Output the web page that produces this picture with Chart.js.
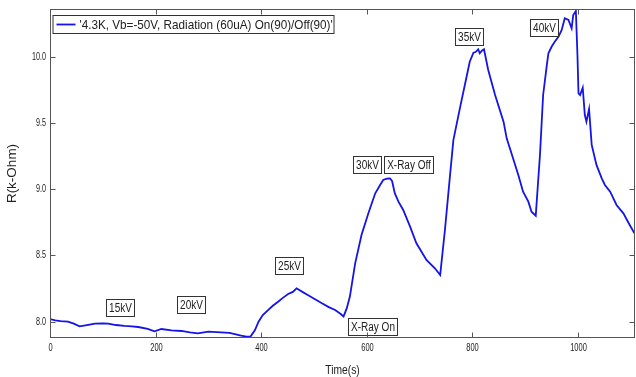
<!DOCTYPE html>
<html>
<head>
<meta charset="utf-8">
<script src="https://cdn.jsdelivr.net/npm/chart.js@4.4.1/dist/chart.umd.min.js"></script>
<style>
  body { margin: 0; background: #fff; }
  #wrap { width: 636px; height: 377px; }
</style>
</head>
<body>
<div id="wrap"><canvas id="rChart" width="636" height="377"></canvas></div>
<script>
// Resistance vs time
const timeSec = [0, 10, 20, 34, 45, 56, 70, 85, 100, 110, 125, 141, 155, 167, 185, 198, 211, 230, 249, 265,
  280, 300, 324, 340, 350, 362, 372, 380, 388, 395, 403, 413, 422, 432, 441, 451, 460, 467, 478, 489,
  502, 515, 528, 540, 550, 556, 562, 568, 578, 590, 603, 616, 625, 631, 638, 644, 648, 653, 660, 669,
  682, 694, 713, 729, 739, 748, 758, 764, 777, 789, 795, 802, 806, 811, 814, 818, 822, 830, 843, 852,
  859, 865, 877, 887, 896, 906, 912, 920, 928, 934, 941, 944, 950, 956, 963, 969, 975, 982, 988, 991,
  996, 999, 1001, 1004, 1009, 1013, 1016, 1021, 1026, 1035, 1045, 1051, 1061, 1073, 1086, 1098, 1107];

const resistance = [8.02, 8.01, 8.005, 8.0, 7.985, 7.965, 7.975, 7.985, 7.988, 7.985, 7.975, 7.968, 7.965, 7.96, 7.945, 7.928, 7.945, 7.935, 7.93, 7.92,
  7.912, 7.925, 7.92, 7.915, 7.907, 7.895, 7.887, 7.89, 7.935, 8.0, 8.05, 8.088, 8.12, 8.151, 8.18, 8.209, 8.225, 8.252, 8.225, 8.2,
  8.17, 8.139, 8.11, 8.088, 8.06, 8.04, 8.1, 8.19, 8.44, 8.654, 8.818, 8.969, 9.03, 9.07, 9.08, 9.082, 9.06, 8.97, 8.906, 8.843,
  8.717, 8.592, 8.466, 8.403, 8.352, 8.692, 9.12, 9.371, 9.623, 9.849, 9.962, 10.03, 10.035, 10.056, 10.026, 10.045, 10.056, 9.9, 9.711, 9.598,
  9.51, 9.384, 9.233, 9.107, 8.981, 8.906, 8.83, 8.8, 9.258, 9.711, 9.937, 10.026, 10.075, 10.113, 10.151, 10.2, 10.29, 10.277, 10.214, 10.315,
  10.345, 10.013, 9.724, 9.711, 9.766, 9.56, 9.51, 9.605, 9.334, 9.183, 9.082, 9.032, 8.981, 8.881, 8.818, 8.73, 8.667];

const xTicks = [0, 200, 400, 600, 800, 1000];
const yTicks = [8.0, 8.5, 9.0, 9.5, 10.0];

// text boxes on the plot (centre in data units)
const noteLabels = ["15kV", "20kV", "25kV", "X-Ray On", "30kV", "X-Ray Off", "35kV", "40kV"];
const noteTimes = [132, 268, 452, 610, 600, 679, 794, 936];
const noteValues = [8.11, 8.128, 8.422, 7.965, 9.19, 9.19, 10.15, 10.22];

const seriesLabel = "'4.3K, Vb=-50V, Radiation (60uA) On(90)/Off(90)'";

const lineColor = "#1414e6";
const frameColor = "#555555";
const textColor = "#222222";
const sans = "'Liberation Sans', Arial, sans-serif";

// the original text is squeezed sideways, so draw it with a horizontal scale
const squeezedText = (ctx, txt, x, y, size, sx, align) => {
  ctx.save();
  ctx.font = size + "px " + sans;
  ctx.textAlign = align;
  ctx.textBaseline = "middle";
  ctx.translate(x, y);
  ctx.scale(sx, 1);
  ctx.fillStyle = textColor;
  ctx.fillText(txt, 0, 0);
  ctx.restore();
};

// Axes box with inward ticks, tick labels, legend and note boxes
const matlabLook = {
  id: "matlabLook",
  afterDatasetsDraw(chart) {
    const ctx = chart.ctx;
    const xs = chart.scales.x;
    const ys = chart.scales.y;
    ctx.save();
    noteLabels.forEach((txt, i) => {
      const cx = xs.getPixelForValue(noteTimes[i]);
      const cy = ys.getPixelForValue(noteValues[i]);
      ctx.font = "12.5px " + sans;
      const w = Math.round(ctx.measureText(txt).width * 0.8 + 5);
      const h = 17;
      const bx = Math.round(cx - w / 2) + 0.5;
      const by = Math.round(cy - h / 2) + 0.5;
      ctx.fillStyle = "#ffffff";
      ctx.fillRect(bx, by, w, h);
      ctx.strokeStyle = "#333333";
      ctx.lineWidth = 1;
      ctx.strokeRect(bx, by, w, h);
      squeezedText(ctx, txt, bx + w / 2, by + h / 2 + 0.5, 12.5, 0.8, "center");
    });
    ctx.restore();
  },
  afterDraw(chart) {
    const ctx = chart.ctx;
    const a = chart.chartArea;
    const xs = chart.scales.x;
    const ys = chart.scales.y;
    const L = Math.round(a.left) + 0.5;
    const R = Math.round(a.right) - 0.5;
    const T = Math.round(a.top) + 0.5;
    const B = Math.round(a.bottom) - 0.5;
    ctx.save();
    ctx.strokeStyle = frameColor;
    ctx.lineWidth = 1;
    ctx.strokeRect(L, T, R - L, B - T);
    ctx.beginPath();
    xTicks.forEach((v) => {
      const px = Math.round(xs.getPixelForValue(v)) + 0.5;
      ctx.moveTo(px, B);
      ctx.lineTo(px, B - 5);
      ctx.moveTo(px, T);
      ctx.lineTo(px, T + 5);
      squeezedText(ctx, String(v), px, B + 10.5, 10, 0.75, "center");
    });
    yTicks.forEach((v) => {
      const py = Math.round(ys.getPixelForValue(v)) + 0.5;
      ctx.moveTo(L, py);
      ctx.lineTo(L + 5, py);
      ctx.moveTo(R, py);
      ctx.lineTo(R - 5, py);
      squeezedText(ctx, v.toFixed(1), L - 4.5, py, 10, 0.72, "right");
    });
    ctx.stroke();

    // x axis title
    squeezedText(ctx, "Time(s)", (a.left + a.right) / 2, 370.5, 12.5, 0.82, "center");

    // legend box
    const lx = L + 2, ly = 15, lw = 281, lh = 18;
    ctx.fillStyle = "#ffffff";
    ctx.fillRect(lx, ly, lw, lh);
    ctx.strokeStyle = "#333333";
    ctx.strokeRect(lx + 0.5, ly + 0.5, lw, lh);
    ctx.strokeStyle = lineColor;
    ctx.lineWidth = 1.8;
    ctx.beginPath();
    ctx.moveTo(lx + 4, ly + 9.5);
    ctx.lineTo(lx + 23, ly + 9.5);
    ctx.stroke();
    squeezedText(ctx, seriesLabel, lx + 27, ly + 10, 13, 0.9, "left");
    ctx.restore();
  },
};

const points = timeSec.map((t, i) => ({ x: t, y: resistance[i] }));

new Chart(document.getElementById("rChart"), {
  type: "line",
  data: {
    datasets: [{
      label: seriesLabel,
      data: points,
      borderColor: lineColor,
      borderWidth: 1.8,
      pointRadius: 0,
      tension: 0,
      fill: false,
    }],
  },
  options: {
    responsive: false,
    animation: false,
    layout: { padding: { top: 9, right: 1, left: 0, bottom: 0 } },
    plugins: {
      legend: { display: false },
      tooltip: { enabled: false },
    },
    scales: {
      x: {
        type: "linear",
        min: 0,
        max: 1108,
        grid: { display: false, drawTicks: false },
        border: { display: false },
        afterBuildTicks: (axis) => { axis.ticks = xTicks.map((v) => ({ value: v })); },
        afterFit: (axis) => { axis.height = 39; },
        ticks: { display: false },
      },
      y: {
        min: 7.877,
        max: 10.36,
        grid: { display: false, drawTicks: false },
        border: { display: false },
        afterBuildTicks: (axis) => { axis.ticks = yTicks.map((v) => ({ value: v })); },
        afterFit: (axis) => { axis.width = 50; },
        ticks: { display: false },
        title: {
          display: true,
          text: "R(k-Ohm)",
          color: textColor,
          padding: { top: 4, bottom: 0 },
          font: { family: sans, size: 13.5 },
        },
      },
    },
  },
  plugins: [matlabLook],
});
</script>
</body>
</html>
